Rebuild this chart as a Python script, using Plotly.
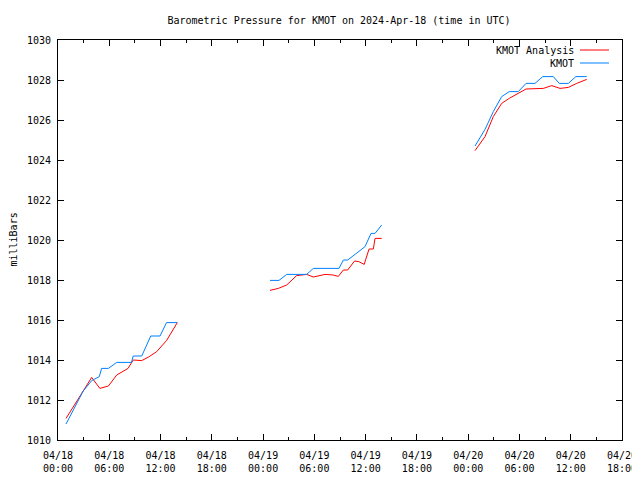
import plotly.graph_objects as go

# hours since 2024-04-18 00:00 UTC; None separates data segments
analysis_hours = [0.94, 1.95, 2.95, 3.94, 4.9, 5.9, 6.87, 8.2, 8.8, 9.8, 10.6, 11.55, 12.7, 13.96,
                  None,
                  24.81, 25.78, 26.76, 27.93, 29.1, 29.88, 31.25, 32.2, 32.8, 33.4, 33.9, 34.7, 35.2,
                  35.83, 36.4, 36.9, 37.1, 37.88,
                  None,
                  48.8, 49.97, 50.94, 51.92, 52.8, 53.87, 54.77, 56.8, 57.77, 58.75, 59.72, 60.7, 61.87]
analysis_mb = [1011.08, 1011.8, 1012.45, 1013.13, 1012.58, 1012.7, 1013.25, 1013.58, 1014.0, 1013.97,
               1014.15, 1014.42, 1014.97, 1015.87,
               None,
               1017.48, 1017.58, 1017.75, 1018.22, 1018.28, 1018.15, 1018.28, 1018.25, 1018.18, 1018.5,
               1018.5, 1018.95, 1018.92, 1018.78, 1019.55, 1019.55, 1020.08, 1020.08,
               None,
               1024.47, 1025.17, 1026.17, 1026.83, 1027.08, 1027.33, 1027.55, 1027.58, 1027.72, 1027.58,
               1027.63, 1027.83, 1028.03]

obs_hours = [0.94, 1.95, 2.95, 3.94, 4.84, 5.1, 5.9, 6.87, 8.6, 8.8, 9.8, 10.85, 11.94, 12.7, 13.96,
             None,
             24.81, 25.86, 26.76, 29.1, 29.88, 32.88, 33.4, 33.9, 34.76, 35.93, 36.63, 37.1, 37.88,
             None,
             48.8, 49.97, 50.94, 51.92, 52.8, 53.87, 54.77, 55.82, 56.72, 57.96, 58.66, 59.72, 60.6, 61.87]
obs_mb = [1010.8, 1011.65, 1012.45, 1012.97, 1013.17, 1013.58, 1013.58, 1013.88, 1013.88, 1014.2, 1014.2,
          1015.2, 1015.2, 1015.87, 1015.87,
          None,
          1017.98, 1017.98, 1018.28, 1018.28, 1018.58, 1018.58, 1019.0, 1019.0, 1019.28, 1019.67, 1020.33,
          1020.33, 1020.75,
          None,
          1024.7, 1025.53, 1026.42, 1027.17, 1027.42, 1027.42, 1027.83, 1027.83, 1028.17, 1028.17, 1027.83,
          1027.83, 1028.17, 1028.17]

tick_hours = [0, 6, 12, 18, 24, 30, 36, 42, 48, 54, 60, 66]
tick_labels = ["04/18<br>00:00", "04/18<br>06:00", "04/18<br>12:00", "04/18<br>18:00",
               "04/19<br>00:00", "04/19<br>06:00", "04/19<br>12:00", "04/19<br>18:00",
               "04/20<br>00:00", "04/20<br>06:00", "04/20<br>12:00", "04/20<br>18:00"]

RED = "#ff0000"
BLUE = "#0080ff"
FONT = "DejaVu Sans Mono"
FS = 10

fig = go.Figure()
fig.add_trace(go.Scatter(x=analysis_hours, y=analysis_mb, mode="lines", name="KMOT Analysis",
                         line=dict(color=RED, width=1), connectgaps=False, showlegend=False))
fig.add_trace(go.Scatter(x=obs_hours, y=obs_mb, mode="lines", name="KMOT",
                         line=dict(color=BLUE, width=1), connectgaps=False, showlegend=False))

# the page body adds an 8 px offset, so the figure is 8 px smaller and margins shifted
fig.update_layout(
    width=632, height=472,
    margin=dict(l=50, r=18, t=32, b=40, autoexpand=False),
    paper_bgcolor="white", plot_bgcolor="white",
    font=dict(family=FONT, size=FS, color="black"),
    title=dict(text="Barometric Pressure for KMOT on 2024-Apr-18 (time in UTC)",
               x=331 / 632, xanchor="center", y=1 - 12 / 472, yanchor="middle",
               font=dict(family=FONT, size=FS, color="black"), automargin=False),
)
fig.update_xaxes(range=[0, 66], showgrid=False, zeroline=False, automargin=False,
                 showline=True, linecolor="black", linewidth=1, mirror="allticks",
                 ticks="inside", ticklen=6, tickcolor="black", ticklabelstandoff=6,
                 tickmode="array", tickvals=tick_hours, ticktext=tick_labels,
                 minor=dict(ticks="inside", ticklen=3, tickcolor="black", dtick=3, tick0=0, showgrid=False))
fig.update_yaxes(range=[1010, 1030], showgrid=False, zeroline=False, automargin=False,
                 showline=True, linecolor="black", linewidth=1, mirror="allticks",
                 ticks="inside", ticklen=6, tickcolor="black",
                 tickmode="linear", tick0=1010, dtick=2, ticklabelstandoff=4)

fig.add_annotation(text="milliBars", xref="paper", yref="paper", x=(12.5 - 58) / 564, y=0.5,
                   xanchor="center", yanchor="middle",
                   textangle=-90, showarrow=False, font=dict(family=FONT, size=FS))

# key (text followed by line sample, as in the original)
for label, color, ypx in [("KMOT Analysis", RED, 50), ("KMOT", BLUE, 63)]:
    yp = (440 - ypx) / 400
    fig.add_annotation(text=label, xref="paper", yref="paper", x=(576 - 58) / 564, y=yp,
                       xanchor="right", yanchor="middle", showarrow=False,
                       font=dict(family=FONT, size=FS))
    fig.add_shape(type="line", xref="paper", yref="paper",
                  x0=(580 - 58) / 564, x1=(609 - 58) / 564, y0=yp, y1=yp,
                  line=dict(color=color, width=1))

fig.write_html("out.html")
